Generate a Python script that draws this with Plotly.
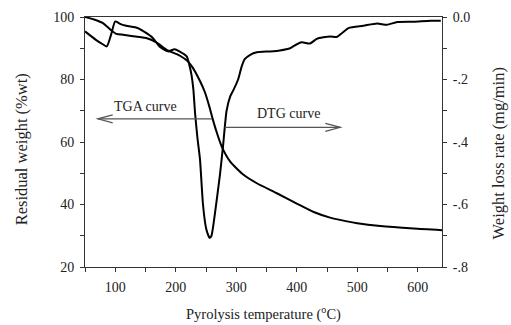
import plotly.graph_objects as go

# TGA curve: residual weight (%wt) vs temperature (°C)
tga_temp = [50, 65, 79, 93, 102, 113, 140, 151, 168, 185, 207, 220, 228, 240, 248, 256, 261, 267,
            276, 290, 312, 334, 367, 400, 428, 455, 483, 500, 538, 593, 640]
tga_weight = [100, 99.2, 98.1, 95.8, 94.6, 94.3, 93.6, 93.3, 91.9, 89.5, 87.6, 85.8, 83.8, 79.5, 76.0,
              71.0, 67.4, 63.5, 58.5, 53.7, 49.5, 46.8, 43.6, 40.3, 37.6, 35.8, 34.6, 34.0, 33.1, 32.3, 31.8]

# DTG curve: weight loss rate (mg/min) vs temperature (°C)
dtg_temp = [50, 68, 80, 86, 93, 100, 107, 118, 137, 151, 162, 173, 187, 198, 206, 218, 222, 226,
            229, 232, 236, 240, 245, 250, 254, 256, 259, 265, 273, 278, 284, 290, 295, 303, 309, 314,
            323, 334, 356, 372, 389, 394, 408, 422, 433, 455, 466, 475, 486, 510, 533, 549, 566,
            593, 621, 638]
dtg_rate = [-0.046, -0.073, -0.088, -0.094, -0.057, -0.014, -0.021, -0.028, -0.035, -0.051, -0.067,
            -0.094, -0.110, -0.103, -0.110, -0.126, -0.150, -0.185, -0.230, -0.310, -0.390, -0.455,
            -0.600, -0.675, -0.700, -0.707, -0.700, -0.625, -0.505, -0.415, -0.300, -0.254, -0.235,
            -0.200, -0.158, -0.135, -0.121, -0.113, -0.110, -0.107, -0.100, -0.094, -0.081, -0.085,
            -0.070, -0.062, -0.064, -0.051, -0.035, -0.028, -0.021, -0.025, -0.016, -0.015, -0.012,
            -0.012]

x_ticks = [100, 200, 300, 400, 500, 600]
left_ticks = [20, 40, 60, 80, 100]
right_ticks = [-0.8, -0.6, -0.4, -0.2, 0.0]
right_labels = ["-.8", "-.6", "-.4", "-.2", "0.0"]

FONT = "Liberation Serif, Times New Roman, serif"
AX = "#333333"
ARROW = "#555555"
TXT = "#222222"

fig = go.Figure()
fig.add_trace(go.Scatter(x=tga_temp, y=tga_weight, mode="lines",
                         line=dict(color="black", width=2, shape="spline", smoothing=0.6),
                         showlegend=False))
fig.add_trace(go.Scatter(x=dtg_temp, y=dtg_rate, mode="lines", yaxis="y2",
                         line=dict(color="black", width=2, shape="spline", smoothing=0.6),
                         showlegend=False))

axis_common = dict(showgrid=False, zeroline=False, showline=True, linecolor=AX, linewidth=1,
                   ticks="outside", ticklen=4, tickcolor=AX, tickwidth=1, ticklabelstandoff=3,
                   automargin=False,
                   tickfont=dict(family=FONT, size=14, color=TXT))

fig.update_layout(
    width=511, height=325,
    margin=dict(l=85, r=69, t=17, b=58),
    paper_bgcolor="white", plot_bgcolor="white",
    font=dict(family=FONT, size=14, color=TXT),
    xaxis=dict(range=[50, 640], tickvals=x_ticks, mirror=True,
               minor=dict(dtick=50, tick0=0, ticks="outside", ticklen=4, tickcolor=AX),
               **axis_common),
    yaxis=dict(range=[20, 100], tickvals=left_ticks,
               minor=dict(dtick=10, tick0=0, ticks="outside", ticklen=4, tickcolor=AX),
               **axis_common),
    yaxis2=dict(range=[-0.8, 0], tickvals=right_ticks, ticktext=right_labels,
                overlaying="y", side="right",
                minor=dict(dtick=0.1, tick0=0, ticks="outside", ticklen=4, tickcolor=AX),
                **axis_common),
)

# Axis titles
title_common = dict(xref="paper", yref="paper", showarrow=False, xanchor="center", yanchor="middle")
fig.add_annotation(x=0.4986, y=-0.184, text="Pyrolysis temperature (<sup>o</sup>C)",
                   font=dict(family=FONT, size=14.5, color=TXT), **title_common)
fig.add_annotation(x=-0.177, y=0.47, textangle=-90, text="Residual weight (%wt)",
                   font=dict(family=FONT, size=16.5, color=TXT), **title_common)
fig.add_annotation(x=1.158, y=0.456, textangle=-90, text="Weight loss rate (mg/min)",
                   font=dict(family=FONT, size=16.5, color=TXT), **title_common)

# Arrow shafts (data coords) and open V arrowheads (pixel-sized, anchored at tips)
tga_arrow = dict(tip=71, tail=260, y=67.4, dir=1)
dtg_arrow = dict(tip=472, tail=281, y=64.7, dir=-1)
for a in (tga_arrow, dtg_arrow):
    fig.add_shape(type="line", xref="x", yref="y", x0=a["tail"], x1=a["tip"], y0=a["y"], y1=a["y"],
                  line=dict(color=ARROW, width=1.2))
    d = a["dir"]
    fig.add_shape(type="path", xref="x", yref="y", xsizemode="pixel", ysizemode="pixel",
                  xanchor=a["tip"], yanchor=a["y"],
                  path=f"M {15*d},4 L 0,0 L {15*d},-4",
                  line=dict(color=ARROW, width=1.2))

fig.add_annotation(x=150, y=71.4, xref="x", yref="y", text="TGA curve", showarrow=False,
                   font=dict(family=FONT, size=14, color=TXT))
fig.add_annotation(x=387, y=69.2, xref="x", yref="y", text="DTG curve", showarrow=False,
                   font=dict(family=FONT, size=14, color=TXT))

fig.write_html("out.html")
